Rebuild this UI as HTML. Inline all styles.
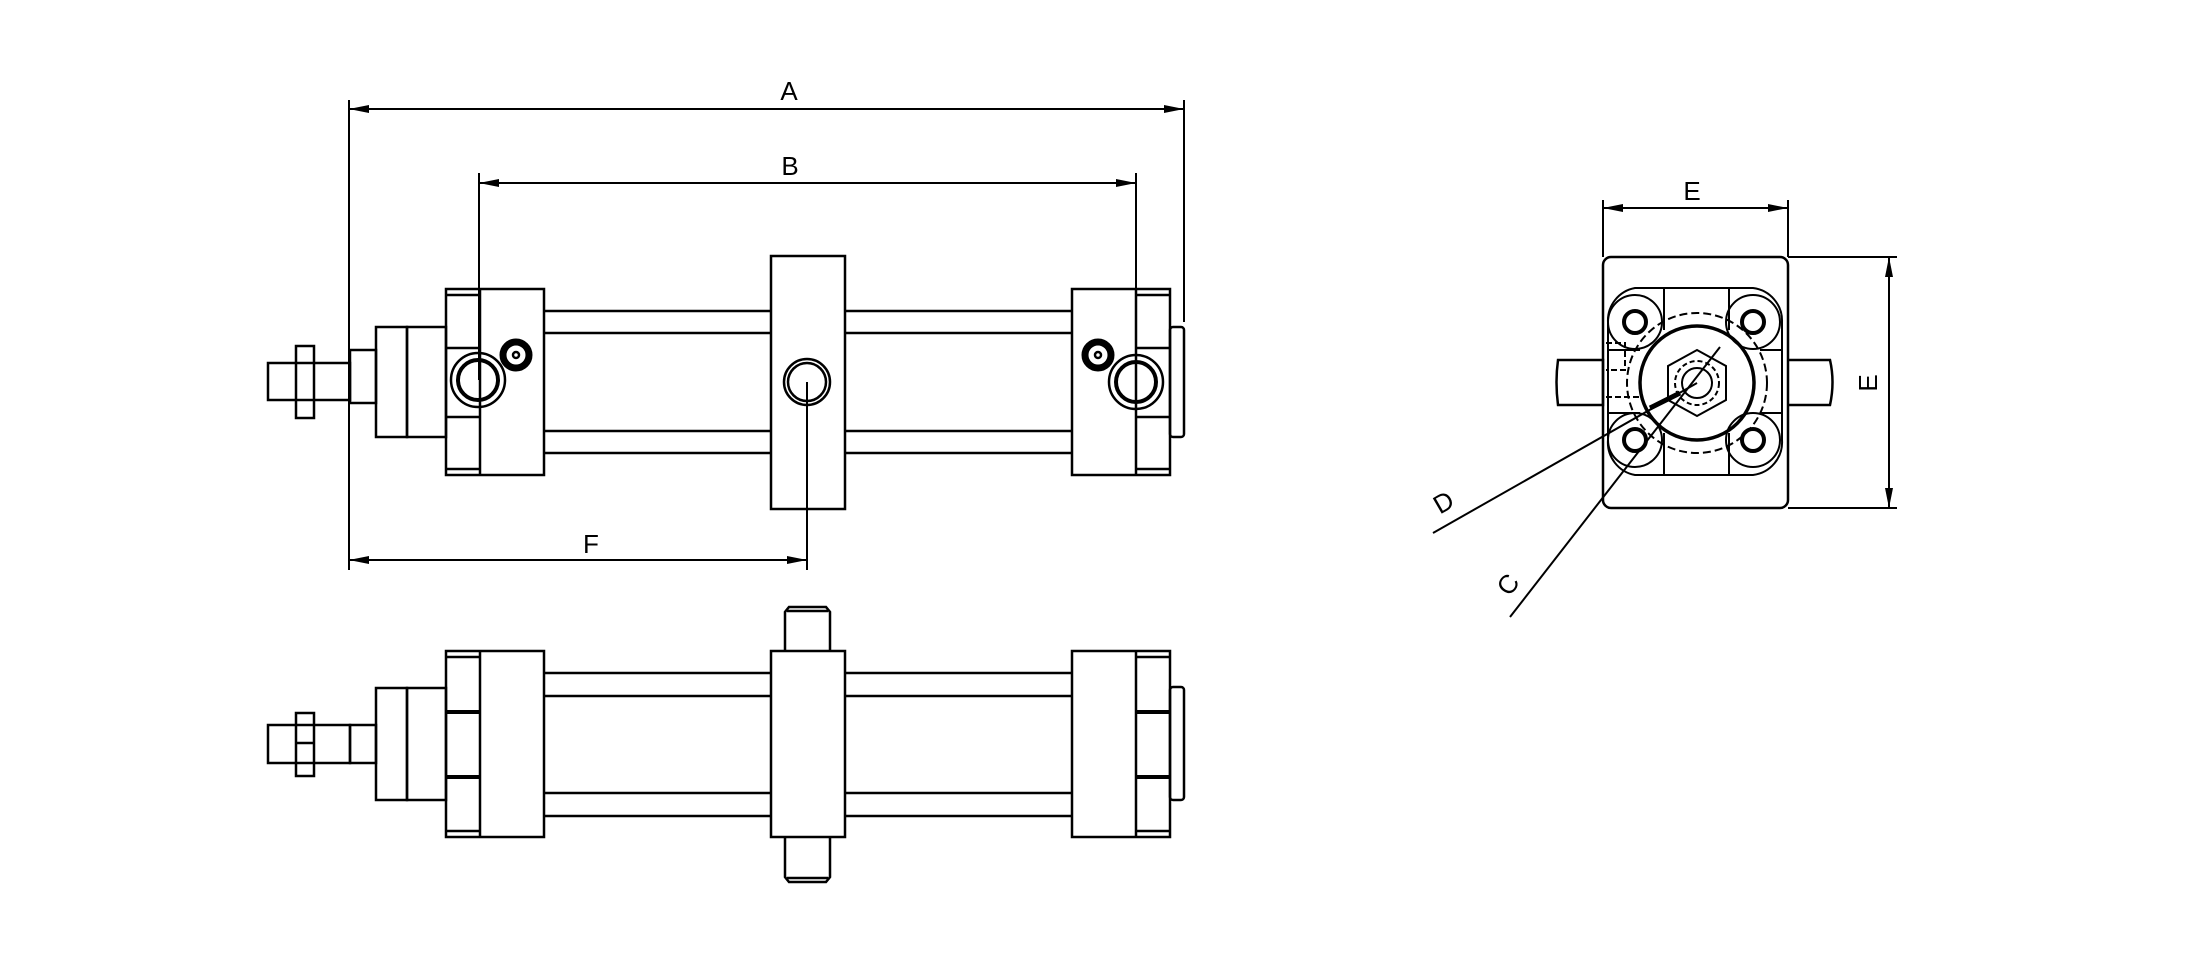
<!DOCTYPE html>
<html><head><meta charset="utf-8"><style>html,body{margin:0;padding:0;background:#fff}svg{display:block}</style></head>
<body>
<svg width="2200" height="964" viewBox="0 0 2200 964" xmlns="http://www.w3.org/2000/svg" font-family="Liberation Sans, sans-serif">
<defs>
<marker id="ar" viewBox="0 0 20 8" refX="20" refY="4" markerWidth="20" markerHeight="8" markerUnits="userSpaceOnUse" orient="auto-start-reverse"><path d="M0,0 L20,4 L0,8 z" fill="#000"/></marker>
</defs>
<g fill="none" stroke="#000" stroke-width="2.5">
<!-- dimensions main -->
<g stroke-width="2">
<line x1="349" y1="100" x2="349" y2="570"/>
<line x1="1184" y1="100" x2="1184" y2="322"/>
<line x1="349" y1="109" x2="1184" y2="109" marker-start="url(#ar)" marker-end="url(#ar)"/>
<line x1="479" y1="173" x2="479" y2="380"/>
<line x1="1136" y1="173" x2="1136" y2="382"/>
<line x1="479" y1="183" x2="1136" y2="183" marker-start="url(#ar)" marker-end="url(#ar)"/>
<line x1="807" y1="382" x2="807" y2="570"/>
<line x1="349" y1="560" x2="807" y2="560" marker-start="url(#ar)" marker-end="url(#ar)"/>
</g>
<!-- top view -->
<rect x="268" y="363" width="82" height="37"/>
<rect x="296" y="346" width="18" height="72"/>
<rect x="350" y="350" width="26" height="53"/>
<rect x="376" y="327" width="31" height="110"/>
<rect x="407" y="327" width="39" height="110"/>
<rect x="446" y="289" width="98" height="186"/>
<line x1="480" y1="289" x2="480" y2="475"/>
<line x1="446" y1="295" x2="480" y2="295"/><line x1="446" y1="348" x2="480" y2="348"/>
<line x1="446" y1="417" x2="480" y2="417"/><line x1="446" y1="469" x2="480" y2="469"/>
<line x1="544" y1="311" x2="771" y2="311"/><line x1="544" y1="333" x2="771" y2="333"/>
<line x1="544" y1="431" x2="771" y2="431"/><line x1="544" y1="453" x2="771" y2="453"/>
<line x1="845" y1="311" x2="1072" y2="311"/><line x1="845" y1="333" x2="1072" y2="333"/>
<line x1="845" y1="431" x2="1072" y2="431"/><line x1="845" y1="453" x2="1072" y2="453"/>
<rect x="771" y="256" width="74" height="253"/>
<rect x="1072" y="289" width="98" height="186"/>
<line x1="1136" y1="289" x2="1136" y2="475"/>
<line x1="1136" y1="295" x2="1170" y2="295"/><line x1="1136" y1="348" x2="1170" y2="348"/>
<line x1="1136" y1="417" x2="1170" y2="417"/><line x1="1136" y1="469" x2="1170" y2="469"/>
<rect x="1170" y="327" width="14" height="110" rx="3"/>
<circle cx="478" cy="380" r="27"/><circle cx="478" cy="380" r="20" stroke-width="4"/>
<circle cx="807" cy="382" r="23"/><circle cx="807" cy="382" r="19"/>
<circle cx="1136" cy="382" r="27"/><circle cx="1136" cy="382" r="20" stroke-width="4"/>
<circle cx="516" cy="355" r="13" stroke-width="7"/><circle cx="516" cy="355" r="3"/>
<circle cx="1098" cy="355" r="13" stroke-width="7"/><circle cx="1098" cy="355" r="3"/>
<!-- bottom view -->
<rect x="268" y="725" width="82" height="38"/>
<rect x="296" y="713" width="18" height="63"/>
<line x1="296" y1="743" x2="314" y2="743"/>
<rect x="350" y="725" width="26" height="38"/>
<rect x="376" y="688" width="31" height="112"/>
<rect x="407" y="688" width="39" height="112"/>
<rect x="446" y="651" width="98" height="186"/>
<line x1="480" y1="651" x2="480" y2="837"/>
<line x1="446" y1="657" x2="480" y2="657"/><line x1="446" y1="712" x2="480" y2="712" stroke-width="4"/>
<line x1="446" y1="777" x2="480" y2="777" stroke-width="4"/><line x1="446" y1="831" x2="480" y2="831"/>
<line x1="544" y1="673" x2="771" y2="673"/><line x1="544" y1="696" x2="771" y2="696"/>
<line x1="544" y1="793" x2="771" y2="793"/><line x1="544" y1="816" x2="771" y2="816"/>
<line x1="845" y1="673" x2="1072" y2="673"/><line x1="845" y1="696" x2="1072" y2="696"/>
<line x1="845" y1="793" x2="1072" y2="793"/><line x1="845" y1="816" x2="1072" y2="816"/>
<rect x="771" y="651" width="74" height="186"/>
<path d="M785,651 V612 L789,607 H826 L830,612 V651"/><line x1="787" y1="611" x2="828" y2="611"/>
<path d="M785,837 V877 L789,882 H826 L830,877 V837"/><line x1="787" y1="878" x2="828" y2="878"/>
<rect x="1072" y="651" width="98" height="186"/>
<line x1="1136" y1="651" x2="1136" y2="837"/>
<line x1="1136" y1="657" x2="1170" y2="657"/><line x1="1136" y1="712" x2="1170" y2="712" stroke-width="4"/>
<line x1="1136" y1="777" x2="1170" y2="777" stroke-width="4"/><line x1="1136" y1="831" x2="1170" y2="831"/>
<rect x="1170" y="687" width="14" height="113" rx="3"/>
<!-- right view -->
<g stroke-width="2">
<line x1="1603" y1="200" x2="1603" y2="257"/><line x1="1788" y1="200" x2="1788" y2="257"/>
<line x1="1603" y1="208" x2="1788" y2="208" marker-start="url(#ar)" marker-end="url(#ar)"/>
<line x1="1788" y1="257" x2="1897" y2="257"/><line x1="1788" y1="508" x2="1897" y2="508"/>
<line x1="1889" y1="257" x2="1889" y2="508" marker-start="url(#ar)" marker-end="url(#ar)"/>
<line x1="1433" y1="533" x2="1697" y2="383"/>
<line x1="1510" y1="617" x2="1720" y2="347"/>
</g>
<rect x="1603" y="257" width="185" height="251" rx="8"/>
<path d="M1558,360 H1603 V405 H1558 Q1555,382 1558,360 z"/>
<path d="M1788,360 H1830 Q1835,382 1830,405 H1788"/>
<path d="M1635,288 H1753 A33,33 0 0 1 1782,322 V440 A33,33 0 0 1 1753,475 H1635 A33,33 0 0 1 1608,440 V322 A33,33 0 0 1 1635,288 z" stroke-width="2"/>
<line x1="1664" y1="288" x2="1664" y2="330" stroke-width="2"/><line x1="1729" y1="288" x2="1729" y2="330" stroke-width="2"/>
<line x1="1664" y1="433" x2="1664" y2="475" stroke-width="2"/><line x1="1729" y1="433" x2="1729" y2="475" stroke-width="2"/>
<line x1="1608" y1="350" x2="1640" y2="350" stroke-width="2"/><line x1="1760" y1="350" x2="1782" y2="350" stroke-width="2"/>
<line x1="1608" y1="413" x2="1640" y2="413" stroke-width="2"/><line x1="1760" y1="413" x2="1782" y2="413" stroke-width="2"/>
<g stroke-width="2">
<circle cx="1635" cy="322" r="27"/><circle cx="1753" cy="322" r="27"/>
<circle cx="1635" cy="440" r="27"/><circle cx="1753" cy="440" r="27"/>
</g>
<g stroke-width="4">
<circle cx="1635" cy="322" r="11"/><circle cx="1753" cy="322" r="11"/>
<circle cx="1635" cy="440" r="11"/><circle cx="1753" cy="440" r="11"/>
</g>
<circle cx="1697" cy="383" r="70" stroke-dasharray="8 4" stroke-width="2"/>
<circle cx="1697" cy="383" r="57" stroke-width="3.5"/>
<polygon points="1697,350 1726,366 1726,400 1697,416 1668,400 1668,366" stroke-width="2"/>
<circle cx="1697" cy="383" r="22" stroke-dasharray="5 3" stroke-width="2"/>
<circle cx="1697" cy="383" r="15" stroke-width="2"/>
<path d="M1606,343 H1625 V370 H1606 M1606,397 H1640" stroke-dasharray="6 3" stroke-width="2"/>
<line x1="1650" y1="408" x2="1680" y2="393" stroke-width="5"/>
</g>
<g font-size="26" fill="#000" text-anchor="middle">
<text x="789" y="100">A</text>
<text x="790" y="175">B</text>
<text x="591" y="553">F</text>
<text x="1692" y="200">E</text>
<text x="0" y="0" transform="translate(1877,383) rotate(-90)">E</text>
<text x="0" y="0" transform="translate(1448,510) rotate(-30)">D</text>
<text x="0" y="0" transform="translate(1515,590) rotate(-52)">C</text>
</g>
</svg>
</body></html>
